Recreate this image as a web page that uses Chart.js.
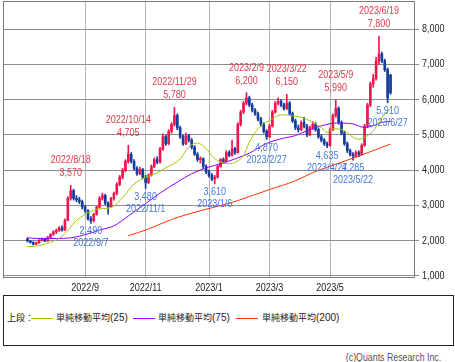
<!DOCTYPE html>
<html lang="ja">
<head>
<meta charset="utf-8">
<title>株価チャート</title>
<script src="https://cdn.jsdelivr.net/npm/chart.js@4.4.0/dist/chart.umd.min.js"></script>
<style>
  body { margin:0; background:#fff; width:455px; height:362px; position:relative; overflow:hidden; }
  #wrap { position:absolute; left:0; top:0; width:455px; height:295px; }
  .legend { position:absolute; left:3px; top:295px; width:451px; height:51px; box-sizing:border-box; border:1px solid #222; }
  .lg { position:absolute; top:312px; font:9px "Noto Sans CJK JP", sans-serif; line-height:12px; color:#222; white-space:nowrap; }
  .num { font-family:"Liberation Sans", "Noto Sans", sans-serif; font-size:10px; }
  .ln { position:absolute; top:318px; height:1px; width:22px; }
  .copy { position:absolute; right:14px; top:351px; font:11px "Liberation Sans", "Noto Sans", sans-serif; line-height:12px; color:#555;
          transform:scaleX(0.8); transform-origin:right center; white-space:nowrap; }
</style>
</head>
<body>
<div id="wrap"><canvas id="chartKabu" width="455" height="295"></canvas></div>
<div class="legend"></div>
<div class="lg" style="left:7px">上段：</div>
<div class="ln" style="left:31px;background:#99cc00"></div>
<div class="lg" style="left:56px">単純移動平均<span class="num">(25)</span></div>
<div class="ln" style="left:133px;background:#9900ff"></div>
<div class="lg" style="left:158px">単純移動平均<span class="num">(75)</span></div>
<div class="ln" style="left:236px;background:#ff3300"></div>
<div class="lg" style="left:262px">単純移動平均<span class="num">(200)</span></div>
<div class="copy">(c)Quants Research Inc.</div>
<script>
// 2営業日ごとのローソク足 (2022/7 〜 2023/6/27)
const openP = [
  2050,1990,1950,1900,1940,2010,2050,1990,2100,2180,
  2250,2290,2360,2300,2580,3200,3420,3200,3160,3100,
  2960,2850,2620,2560,2750,2950,3200,3280,3060,2960,
  3200,3340,3600,3800,4000,4250,4450,4250,4050,3900,
  4020,3800,3650,3860,4100,4300,4230,4600,4950,4750,
  5100,5300,5550,5200,4950,4750,4980,4850,4650,4450,
  4300,4330,4100,3950,3850,3750,3800,4100,4300,4250,
  4500,4420,4600,4500,5300,5650,5900,6050,5850,5700,
  5600,5450,5300,5100,4950,5250,5650,5900,5950,5850,
  5750,5900,5600,5400,5200,5150,5350,5250,5000,5200,
  5300,5150,4950,4850,4750,4700,5150,5550,5750,5350,
  5050,4750,4550,4450,4400,4500,4450,4700,5250,5850,
  6450,6600,7100,7300,7100,6850,6700
];
const highP = [
  2080,2010,1970,1960,2030,2080,2070,2120,2200,2280,
  2330,2400,2420,2620,3250,3570,3460,3280,3230,3150,
  3000,2880,2680,2780,2980,3250,3350,3320,3100,3230,
  3380,3640,3850,4050,4300,4705,4500,4300,4100,4080,
  4050,3850,3900,4150,4350,4380,4650,5030,5000,5150,
  5350,5780,5600,5250,5000,5050,5020,4900,4700,4500,
  4380,4350,4150,4000,3900,3850,4150,4330,4350,4550,
  4550,4850,4650,5350,5700,5950,6200,6100,5900,5750,
  5650,5500,5350,5150,5300,5700,5950,6050,6000,5900,
  6150,5950,5650,5450,5280,5400,5500,5300,5250,5380,
  5350,5200,5000,4900,4800,5200,5600,5990,5800,5400,
  5100,4800,4600,4500,4550,4550,4750,5300,5900,6500,
  6720,7200,7800,7350,7150,6900,6720
];
const lowP = [
  1960,1930,1880,1890,1920,1990,1970,1980,2080,2150,
  2200,2260,2270,2280,2560,3150,3150,3100,3050,2900,
  2800,2580,2490,2530,2720,2920,3150,3020,2750,2940,
  3150,3300,3560,3750,3950,4200,4200,4000,3850,3870,
  3750,3480,3620,3830,4070,4180,4200,4560,4700,4720,
  5050,5250,5150,4900,4700,4720,4800,4600,4420,4250,
  4200,4050,3900,3800,3700,3610,3780,4080,4200,4230,
  4380,4400,4450,4480,5250,5600,5850,5800,5650,5550,
  5400,5250,5050,4870,4920,5220,5620,5850,5800,5700,
  5720,5550,5350,5150,5080,5120,5200,4950,4980,5150,
  5100,4900,4800,4700,4635,4680,5120,5500,5300,5000,
  4700,4500,4400,4285,4370,4380,4430,4680,5200,5800,
  6350,6550,7000,7050,6800,5910,6150
];
const closeP = [
  1990,1950,1900,1940,2010,2050,1990,2100,2180,2250,
  2290,2360,2300,2580,3200,3420,3200,3160,3100,2960,
  2850,2620,2560,2750,2950,3200,3280,3060,2960,3200,
  3340,3600,3800,4000,4250,4450,4250,4050,3900,4020,
  3800,3650,3860,4100,4300,4230,4600,4950,4750,5100,
  5300,5550,5200,4950,4750,4980,4850,4650,4450,4300,
  4330,4100,3950,3850,3750,3800,4100,4300,4250,4500,
  4420,4600,4500,5300,5650,5900,6050,5850,5700,5600,
  5450,5300,5100,4950,5250,5650,5900,5950,5850,5750,
  5900,5600,5400,5200,5150,5350,5250,5000,5200,5300,
  5150,4950,4850,4750,4700,5150,5550,5750,5350,5050,
  4750,4550,4450,4400,4500,4450,4700,5250,5850,6450,
  6600,7100,7300,7100,6850,6050,6200
];

// 移動平均 (足番号, 値)
const ma25Idx = [0,4,8,12,17,21,25,29,33,37,40,45,48,53,56,59,62,64,66,70,72,75,77,79,81,85,88,92,95,98,102,104,106,108,111,113,115,117,120,122,124,126];
const ma25Val = [1830,1860,1950,2120,2570,2790,2900,2940,3220,3610,3760,3930,4070,4320,4660,4770,4610,4410,4270,4180,4220,4420,4790,5070,5260,5450,5570,5540,5500,5400,5210,5070,5170,5170,5070,4930,4880,4930,5120,5360,5590,5740];
const ma75Idx = [0,4,10,15,21,25,30,35,41,46,52,57,63,67,72,77,83,89,93,97,102,108,113,117,120,123,126];
const ma75Val = [2080,2060,2060,2080,2190,2300,2420,2700,3050,3350,3660,3900,4090,4180,4320,4480,4760,4910,4980,5120,5260,5340,5310,5210,5260,5360,5380];
const ma200Idx = [35,42,50,60,70,77,84,93,99,105,115,126];
const ma200Val = [2140,2330,2600,2850,3060,3250,3450,3700,3930,4110,4400,4740];

// 高値・安値の注記
const noteIdx  = [15,22,35,41,51,65,76,83,90,104,107,113,122,125];
const noteVal  = [3570,2490,4705,3480,5780,3610,6200,4870,6150,4635,5990,4285,7800,5910];
const noteDate = ['2022/8/18','2022/9/7','2022/10/14','2022/11/1','2022/11/29','2023/1/6','2023/2/9','2023/2/27','2023/3/22','2023/4/27','2023/5/9','2023/5/22','2023/6/19','2023/6/27'];
const noteKind = ['high','low','high','low','high','low','high','low','high','low','high','low','high','low'];

const xTickIdx = [20,41,63,84,105];
const xTickLabels = ['2022/9','2022/11','2023/1','2023/3','2023/5'];
const yTicks = [1000,2000,3000,4000,5000,6000,7000,8000];

const UP = '#f0174e', DOWN = '#163c9c';
const RED_TXT = '#e0384a', BLUE_TXT = '#4377e0';
const FONT = '11px "Liberation Sans", "Noto Sans", sans-serif';

const candleColors = closeP.map((c, i) => c >= openP[i] ? UP : DOWN);
const pts = (idx, vals) => idx.map((k, i) => ({ x: k, y: vals[i] }));
const fmt = v => Number(v).toLocaleString('en-US');

// 細めの字で描く (元図の細字体に合わせる)
function narrowText(ctx, txt, x, y, align){
  ctx.save();
  ctx.translate(x, y);
  ctx.scale(0.82, 1);
  ctx.textAlign = align;
  ctx.fillText(txt, 0, 0);
  ctx.restore();
}

const frameAndNotes = {
  id: 'frameAndNotes',
  afterDraw(chart){
    const { ctx, chartArea: a, scales: { x, y } } = chart;
    ctx.save();
    ctx.strokeStyle = '#7a7a7a';
    ctx.lineWidth = 1;
    ctx.strokeRect(a.left + 0.5, a.top + 0.5, a.right - a.left - 1, a.bottom - a.top - 1);
    ctx.font = FONT;
    ctx.textBaseline = 'middle';

    // 軸ラベル
    ctx.fillStyle = '#222';
    xTickIdx.forEach((k, i) => narrowText(ctx, xTickLabels[i], x.getPixelForValue(k), a.bottom + 10, 'center'));
    yTicks.forEach(v => narrowText(ctx, fmt(v), a.right + 7, y.getPixelForValue(v), 'left'));

    // 高値・安値の注記
    noteIdx.forEach((k, i) => {
      const px = x.getPixelForValue(k);
      const py = y.getPixelForValue(noteVal[i]);
      if(noteKind[i] === 'high'){
        ctx.fillStyle = RED_TXT;
        narrowText(ctx, noteDate[i], px, py - 25, 'center');
        narrowText(ctx, fmt(noteVal[i]), px, py - 12, 'center');
      }else{
        ctx.fillStyle = BLUE_TXT;
        narrowText(ctx, fmt(noteVal[i]), px, py + 8, 'center');
        narrowText(ctx, noteDate[i], px, py + 20, 'center');
      }
    });
    ctx.restore();
  }
};

const ctx = document.getElementById('chartKabu').getContext('2d');
new Chart(ctx, {
  type: 'bar',
  data: {
    datasets: [
      { type: 'line', label: '単純移動平均(25)', data: pts(ma25Idx, ma25Val), borderColor: '#99cc00', borderWidth: 1, pointRadius: 0, cubicInterpolationMode: 'monotone', order: 0 },
      { type: 'line', label: '単純移動平均(75)', data: pts(ma75Idx, ma75Val), borderColor: '#9900ff', borderWidth: 1, pointRadius: 0, cubicInterpolationMode: 'monotone', order: 0 },
      { type: 'line', label: '単純移動平均(200)', data: pts(ma200Idx, ma200Val), borderColor: '#ff3300', borderWidth: 1, pointRadius: 0, cubicInterpolationMode: 'monotone', order: 0 },
      { label: 'ヒゲ', data: closeP.map((_, i) => ({ x: i, y: [lowP[i], highP[i]] })), backgroundColor: candleColors, barThickness: 1, grouped: false, borderWidth: 0, order: 2 },
      { label: '実体', data: closeP.map((_, i) => ({ x: i, y: [openP[i], closeP[i]] })), backgroundColor: candleColors, barThickness: 2, grouped: false, borderWidth: 0, order: 1 }
    ]
  },
  options: {
    responsive: false,
    animation: false,
    layout: { padding: { left: 3, top: 1, right: 0, bottom: 0 } },
    plugins: { legend: { display: false }, tooltip: { enabled: false } },
    scales: {
      x: {
        type: 'linear', min: -8.5, max: 134.5, offset: false,
        grid: { color: '#b5b5b5', offset: false, drawTicks: false },
        border: { display: false },
        afterBuildTicks: s => { s.ticks = xTickIdx.map(v => ({ value: v })); },
        afterFit: s => { s.height = 17; },
        ticks: { display: false }
      },
      y: {
        position: 'right', min: 940, max: 8800,
        grid: { color: '#8e8e8e', tickLength: 4 },
        border: { display: false },
        afterBuildTicks: s => { s.ticks = yTicks.map(v => ({ value: v })); },
        afterFit: s => { s.width = 40; },
        ticks: { display: false }
      }
    }
  },
  plugins: [frameAndNotes]
});
</script>
</body>
</html>
